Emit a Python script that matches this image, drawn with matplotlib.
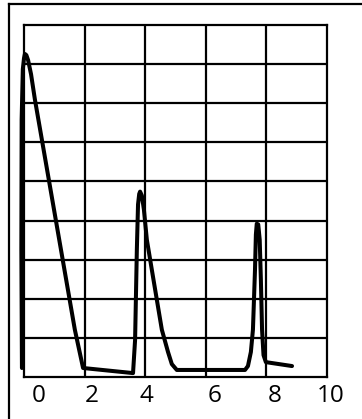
import matplotlib
matplotlib.use("Agg")
import matplotlib.pyplot as plt
from matplotlib.lines import Line2D
from matplotlib.transforms import blended_transform_factory

# curve (x in label units, y in grid rows)
curve_x = [-0.58, -0.60, -0.59, -0.55, -0.51, -0.48, -0.43, -0.37, -0.27, -0.14,
           1.22, 1.50, 3.20, 3.27, 3.33, 3.37, 3.41, 3.44, 3.50, 3.57,
           3.67, 3.84, 4.18, 4.39, 4.52, 4.69, 7.01, 7.11, 7.21, 7.28,
           7.35, 7.38, 7.41, 7.46, 7.51, 7.55, 7.59, 7.64, 7.72, 8.61]
curve_y = [0.23, 3.26, 6.59, 7.87, 8.15, 8.26, 8.23, 8.10, 7.74, 7.10,
           1.21, 0.23, 0.10, 0.95, 3.26, 4.41, 4.68, 4.74, 4.64, 4.28,
           3.51, 2.74, 1.21, 0.64, 0.33, 0.18, 0.18, 0.28, 0.64, 1.21,
           2.74, 3.64, 3.92, 3.90, 3.51, 2.49, 1.21, 0.56, 0.38, 0.28]

grid_x = [1.565, 3.605, 5.68, 7.72]
grid_y = [1, 2, 3, 4, 5, 6, 7, 8]

label_pos = [0.0, 1.80, 3.67, 5.99, 8.03, 9.93]
label_txt = ["0", "2", "4", "6", "8", "10"]

fig = plt.figure(figsize=(3.62, 4.19), dpi=100)
ax = fig.add_axes([24 / 362, 1 - 377 / 419, 303 / 362, 352 / 419])
ax.set_xlim(-0.51, 9.80)
ax.set_ylim(0, 9)

for gx in grid_x:
    ax.axvline(gx, color="black", lw=1.6)
for gy in grid_y:
    ax.axhline(gy, color="black", lw=1.6)
for s in ax.spines.values():
    s.set_linewidth(1.6)
ax.set_xticks([])
ax.set_yticks([])

ax.plot(curve_x, curve_y, color="black", lw=2.9, clip_on=False,
        solid_joinstyle="round", solid_capstyle="round", zorder=5)

tr = blended_transform_factory(ax.transData, ax.transAxes)
for p, t in zip(label_pos, label_txt):
    ax.text(p, -0.054, t, transform=tr, ha="center", va="center",
            fontsize=17.5, family="Open Sans")

# outer frame (only top and left edges fall inside the picture)
fig.add_artist(Line2D([9 / 362, 9 / 362], [0, 1 - 4 / 419], color="black", lw=1.6,
                      transform=fig.transFigure))
fig.add_artist(Line2D([9 / 362, 1], [1 - 4 / 419, 1 - 4 / 419], color="black", lw=1.6,
                      transform=fig.transFigure))

fig.savefig("out.png", dpi=100, facecolor="white")
